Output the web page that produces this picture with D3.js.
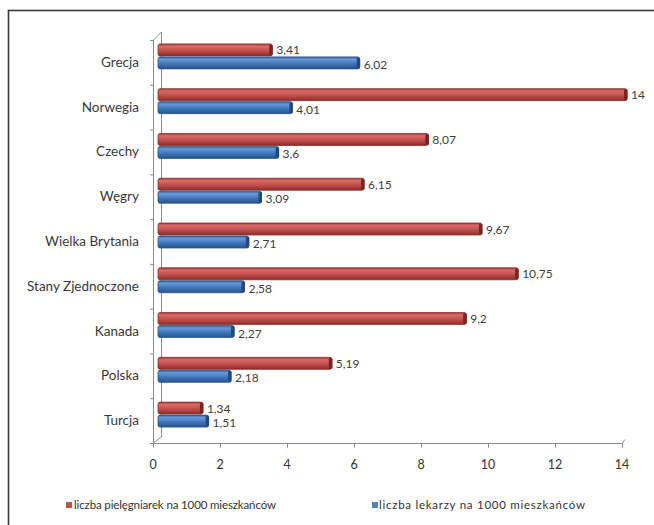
<!DOCTYPE html>
<html><head><meta charset="utf-8">
<script src="https://cdn.jsdelivr.net/npm/d3@7"></script>
<style>html,body{margin:0;padding:0;background:#fff;}svg{display:block;}</style>
</head><body>
<script>
const categories = ["Grecja","Norwegia","Czechy","Węgry","Wielka Brytania","Stany Zjednoczone","Kanada","Polska","Turcja"];
const nurses = [3.41,14,8.07,6.15,9.67,10.75,9.2,5.19,1.34];
const doctors = [6.02,4.01,3.6,3.09,2.71,2.58,2.27,2.18,1.51];
const xTicks = [0,2,4,6,8,10,12,14];
const seriesNames = ["liczba pielęgniarek na 1000 mieszkańców","liczba lekarzy na 1000 mieszkańców"];

const W=654,H=525;
const svg=d3.select("body").append("svg").attr("width",W).attr("height",H);
const font="Lato, 'Open Sans', sans-serif";

// frame
svg.append("rect").attr("x",8.5).attr("y",10.5).attr("width",700).attr("height",600)
  .attr("fill","none").attr("stroke","#3a3a3a").attr("stroke-width",1.6);

const x=d3.scaleLinear().domain([0,14]).range([153,622]);
const y=d3.scaleBand().domain(categories).range([40,443]);
const dx=5, dy=-6;

const defs=svg.append("defs");
function grad(id,stops){
  const g=defs.append("linearGradient").attr("id",id).attr("x1",0).attr("y1",0).attr("x2",0).attr("y2",1);
  stops.forEach(s=>g.append("stop").attr("offset",s[0]).attr("stop-color",s[1]));
}
grad("gr",[[0,"#9e3835"],[0.2,"#d86b68"],[0.55,"#c4504d"],[1,"#8a2c2a"]]);
grad("gb",[[0,"#2c5b94"],[0.2,"#6a9ad6"],[0.55,"#3f77c0"],[1,"#2a5286"]]);

// 3D walls / axes
const ax=svg.append("g").attr("stroke","#8a8a8a").attr("fill","none").attr("stroke-width",1);
ax.append("line").attr("x1",153.5).attr("y1",40).attr("x2",153.5).attr("y2",443);
ax.append("line").attr("x1",153.5+dx+3).attr("y1",40+dy-2).attr("x2",153.5+dx+3).attr("y2",443+dy);
ax.append("line").attr("x1",153.5).attr("y1",40).attr("x2",153.5+dx+3).attr("y2",40+dy-2);
ax.append("line").attr("x1",153.5).attr("y1",443).attr("x2",153.5+dx+3).attr("y2",443+dy);
ax.append("line").attr("x1",153).attr("y1",443.5).attr("x2",622).attr("y2",443.5);
ax.append("line").attr("x1",622).attr("y1",443.5).attr("x2",622+3).attr("y2",443.5-4);
categories.forEach((c,i)=>{
  ax.append("line").attr("x1",150).attr("x2",153.5).attr("y1",y(c)+0.5).attr("y2",y(c)+0.5);
});
ax.append("line").attr("x1",150).attr("x2",153.5).attr("y1",443.5).attr("y2",443.5);
xTicks.forEach(t=>{
  ax.append("line").attr("x1",x(t)+0.5).attr("x2",x(t)+0.5).attr("y1",443.5).attr("y2",447.5);
});

// tick labels
svg.append("g").selectAll("text").data(xTicks).join("text")
  .attr("x",d=>x(d)).attr("y",469).attr("text-anchor","middle")
  .attr("font-family",font).attr("font-size",12.5).attr("fill","#333").text(d=>d);

// category labels
svg.append("g").selectAll("text").data(categories).join("text")
  .attr("x",139).attr("y",d=>y(d)+y.bandwidth()/2+4.5).attr("text-anchor","end")
  .attr("font-family",font).attr("font-size",13.5).attr("fill","#3a3a3a").text(d=>d);

const bh=12, gap=1;
const fmt=v=>String(v).replace(".",",");
function drawSeries(vals,off,gid,cap,stroke){
  const g=svg.append("g");
  vals.forEach((v,i)=>{
    const c=categories[i];
    const yc=y(c)+y.bandwidth()/2+dy;
    const yy=off===0? yc-bh-gap/2 : yc+gap/2;
    const x0=x(0)+dx, x1=x(v)+dx;
    g.append("rect").attr("x",x0).attr("y",yy).attr("width",x1-x0).attr("height",bh)
      .attr("rx",2).attr("fill",`url(#${gid})`).attr("stroke",stroke).attr("stroke-width",0.8);
    g.append("rect").attr("x",x1-3).attr("y",yy+0.5).attr("width",3.5).attr("height",bh-1)
      .attr("rx",1.5).attr("fill",cap);
    g.append("text").attr("x",x1+4).attr("y",yy+bh/2+(off===0?4.5:6))
      .attr("font-family",font).attr("font-size",12).attr("fill","#404040").text(fmt(v));
  });
}
drawSeries(nurses,0,"gr","#7a2422","#8a3330");
drawSeries(doctors,1,"gb","#24487a","#2d568a");

// legend
const lg=svg.append("g").attr("font-family",font).attr("font-size",11.5).attr("fill","#333");
lg.append("rect").attr("x",66).attr("y",502).attr("width",6).attr("height",6).attr("fill","#c0504d");
lg.append("text").attr("x",74).attr("y",509).text(seriesNames[0]).attr("textLength",202);
lg.append("rect").attr("x",372).attr("y",502).attr("width",6).attr("height",6).attr("fill","#4f81bd");
lg.append("text").attr("x",379).attr("y",509).text(seriesNames[1]).attr("textLength",206);
</script>
</body></html>
